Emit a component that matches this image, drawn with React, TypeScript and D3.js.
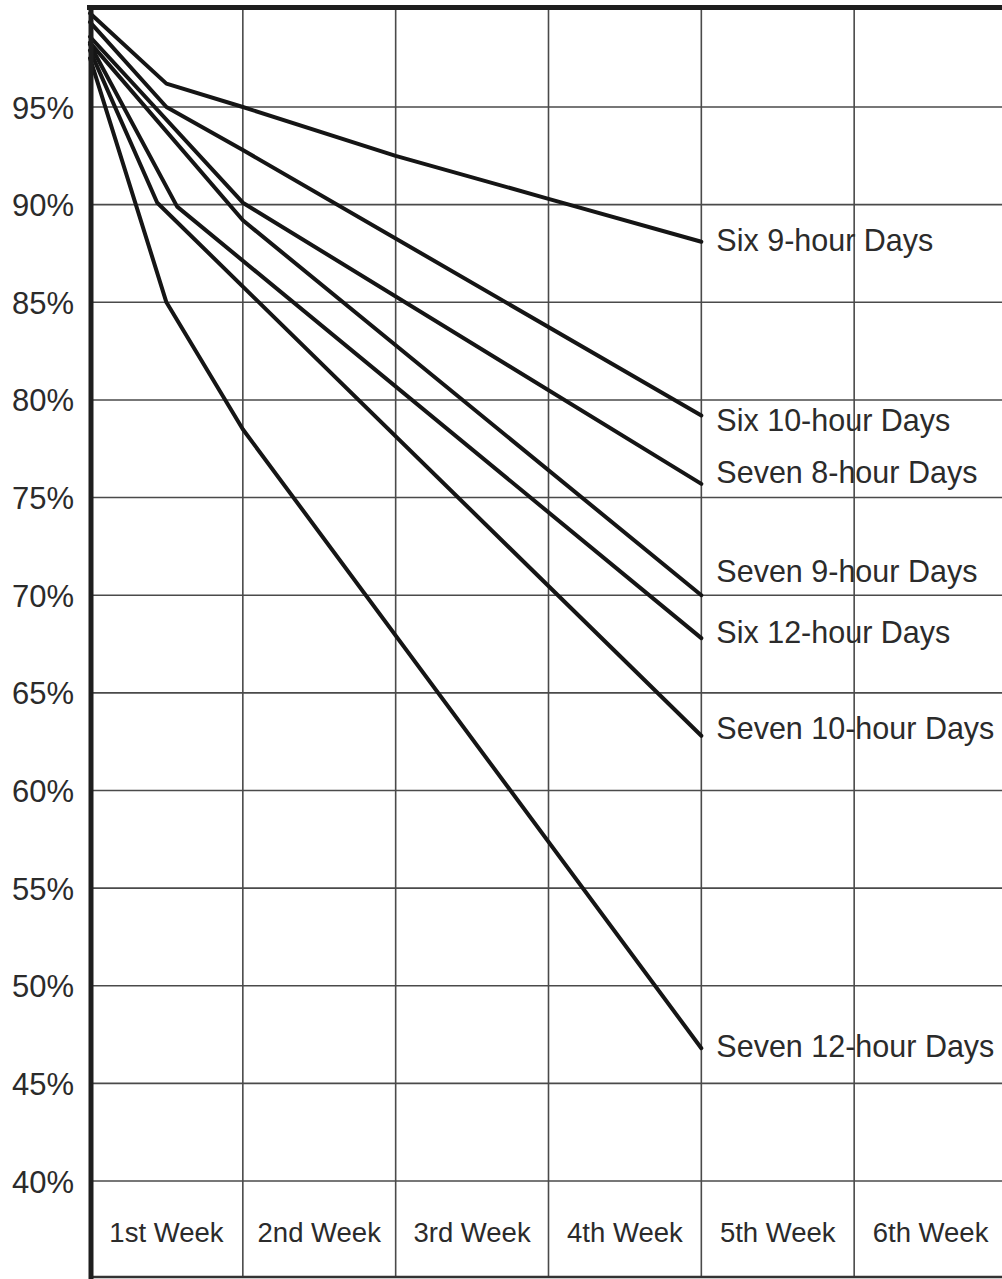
import React from "react";
import * as d3 from "d3";

// ---- data ----
const weekLabels = ["1st Week", "2nd Week", "3rd Week", "4th Week", "5th Week", "6th Week"];
const yTicks = [95, 90, 85, 80, 75, 70, 65, 60, 55, 50, 45, 40];

// [week, percent]
const sixNineHour: [number, number][] = [[0, 99.8], [0.5, 96.2], [1, 95.0], [2, 92.5], [3, 90.3], [4, 88.1]];
const sixTenHour: [number, number][] = [[0, 99.35], [0.5, 95.0], [1, 92.8], [4, 79.2]];
const sevenEightHour: [number, number][] = [[0, 98.6], [1, 90.1], [4, 75.7]];
const sevenNineHour: [number, number][] = [[0, 98.3], [1, 89.2], [4, 70.0]];
const sixTwelveHour: [number, number][] = [[0, 98.2], [0.57, 89.9], [4, 67.8]];
const sevenTenHour: [number, number][] = [[0, 97.9], [0.44, 90.1], [4, 62.8]];
const sevenTwelveHour: [number, number][] = [[0, 97.5], [0.5, 85.0], [1, 78.5], [4, 46.8]];

const seriesNames = [
  "Six 9-hour Days",
  "Six 10-hour Days",
  "Seven 8-hour Days",
  "Seven 9-hour Days",
  "Six 12-hour Days",
  "Seven 10-hour Days",
  "Seven 12-hour Days",
];
const seriesData = [sixNineHour, sixTenHour, sevenEightHour, sevenNineHour, sixTwelveHour, sevenTenHour, sevenTwelveHour];
// label baseline offsets (px) relative to line end, to avoid overlaps
const labelDy = [9, 15, -1, -13, 5, 3, 9];

export default function App() {
  const W = 1002;
  const H = 1279;
  const x = d3.scaleLinear().domain([0, 6]).range([90, 1007]);
  const y = d3.scaleLinear().domain([40, 100]).range([1181, 9.4]);
  const bottom = 1277;
  const line = d3
    .line<[number, number]>()
    .x((d) => x(d[0]))
    .y((d) => y(d[1]));
  const font = "'Liberation Sans', Arial, Helvetica, sans-serif";
  const textColor = "#2b2b2b";
  const gridColor = "#4a4a4a";

  return (
    <svg
      width={W}
      height={H}
      style={{ position: "absolute", left: 0, top: 0, background: "#fff" }}
    >
      <rect x={0} y={0} width={W} height={H} fill="#fff" />
      {/* horizontal gridlines */}
      {yTicks.map((t) => (
        <line key={"h" + t} x1={x(0)} x2={W} y1={y(t)} y2={y(t)} stroke={gridColor} strokeWidth={1.6} />
      ))}
      {/* vertical gridlines */}
      {d3.range(1, 7).map((w) => (
        <line key={"v" + w} x1={x(w)} x2={x(w)} y1={y(100)} y2={bottom} stroke={gridColor} strokeWidth={1.6} />
      ))}
      {/* bottom border */}
      <line x1={x(0)} x2={W} y1={bottom} y2={bottom} stroke="#333" strokeWidth={2.5} />
      {/* series lines */}
      {seriesData.map((s, i) => (
        <path
          key={"s" + i}
          d={line(s) || ""}
          fill="none"
          stroke="#151515"
          strokeWidth={4}
          strokeLinejoin="round"
          strokeLinecap="round"
        />
      ))}
      {/* top & left borders */}
      <line x1={x(0) - 3} x2={W} y1={7.5} y2={7.5} stroke="#1e1e1e" strokeWidth={5} />
      <line x1={x(0) + 1} x2={x(0) + 1} y1={5} y2={H} stroke="#1e1e1e" strokeWidth={5} />
      {/* y labels */}
      {yTicks.map((t) => (
        <text
          key={"yl" + t}
          x={74}
          y={y(t) + 11.5}
          textAnchor="end"
          fontFamily={font}
          fontSize={31}
          fill={textColor}
        >
          {t}%
        </text>
      ))}
      {/* week labels */}
      {weekLabels.map((l, i) => (
        <text
          key={"wl" + i}
          x={x(i + 0.5)}
          y={1242}
          textAnchor="middle"
          fontFamily={font}
          fontSize={27.5}
          fill={textColor}
        >
          {l}
        </text>
      ))}
      {/* series labels */}
      {seriesData.map((s, i) => {
        const last = s[s.length - 1];
        return (
          <text
            key={"sl" + i}
            x={x(last[0]) + 15}
            y={y(last[1]) + labelDy[i]}
            fontFamily={font}
            fontSize={30.5}
            fill={textColor}
          >
            {seriesNames[i]}
          </text>
        );
      })}
    </svg>
  );
}
